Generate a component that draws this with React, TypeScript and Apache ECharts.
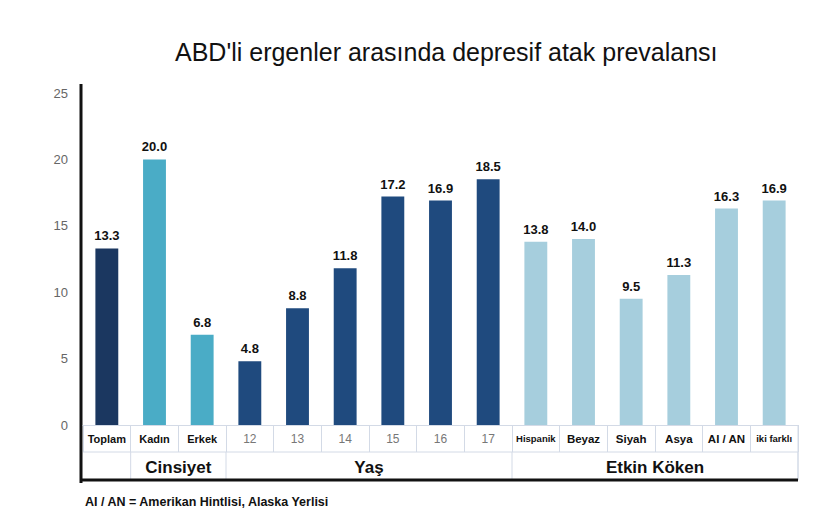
import React, { useEffect, useRef } from "react";
import * as echarts from "echarts";

const categories = ["Toplam", "Kadın", "Erkek", "12", "13", "14", "15", "16", "17", "Hispanik", "Beyaz", "Siyah", "Asya", "AI / AN", "iki farklı"];
const values = [13.3, 20.0, 6.8, 4.8, 8.8, 11.8, 17.2, 16.9, 18.5, 13.8, 14.0, 9.5, 11.3, 16.3, 16.9];
const barColors = ["#1b3760", "#4aacc6", "#4aacc6", "#1f4a7e", "#1f4a7e", "#1f4a7e", "#1f4a7e", "#1f4a7e", "#1f4a7e", "#a6cedd", "#a6cedd", "#a6cedd", "#a6cedd", "#a6cedd", "#a6cedd"];
const labelStyles = ["b", "b", "b", "n", "n", "n", "n", "n", "n", "s", "m", "m", "m", "m", "s"];
const groups = [
  { name: "", start: 0, end: 1 },
  { name: "Cinsiyet", start: 1, end: 3 },
  { name: "Yaş", start: 3, end: 9 },
  { name: "Etkin Köken", start: 9, end: 15 },
];
const yTicks = { min: 0, max: 25, interval: 5 };
const title = "ABD'li ergenler arasında depresif atak prevalansı";
const footnote = "AI / AN = Amerikan Hintlisi, Alaska Yerlisi";

const FONT = "'Liberation Sans', Arial, sans-serif";
const LIGHT = "#d3dae6";

export default function App() {
  const ref = useRef<HTMLDivElement>(null);
  useEffect(() => {
    document.body.style.margin = "0";
    const chart = echarts.init(ref.current!, null, { renderer: "svg" });
    const gridTop = 93, gridBottom = 106, H = 531;
    chart.setOption({
      animation: false,
      backgroundColor: "#ffffff",
      title: {
        text: title,
        left: 170,
        top: 34,
        textStyle: { fontFamily: FONT, fontSize: 25, fontWeight: "normal", color: "#111" },
      },
      grid: { left: 83, right: 27, top: gridTop, bottom: gridBottom },
      xAxis: {
        type: "category",
        data: categories,
        axisLine: { show: true, lineStyle: { color: LIGHT, width: 1 } },
        axisTick: { show: true, length: 27, lineStyle: { color: LIGHT } },
        axisLabel: {
          margin: 8,
          interval: 0,
          formatter: (v: string, i: number) => `{${labelStyles[i]}|${v}}`,
          rich: {
            b: { fontFamily: FONT, fontSize: 11, fontWeight: "bold", color: "#111" },
            n: { fontFamily: FONT, fontSize: 12, color: "#777" },
            s: { fontFamily: FONT, fontSize: 9.5, fontWeight: "bold", color: "#111" },
            m: { fontFamily: FONT, fontSize: 11.5, fontWeight: "bold", color: "#111" },
          },
        },
      },
      yAxis: {
        type: "value",
        min: yTicks.min,
        max: yTicks.max,
        interval: yTicks.interval,
        axisLine: { show: false },
        axisTick: { show: false },
        splitLine: { show: false },
        axisLabel: { margin: 15, fontFamily: FONT, fontSize: 13, color: "#666" },
      },
      series: [
        {
          type: "bar",
          data: values.map((v, i) => ({ value: v, itemStyle: { color: barColors[i] } })),
          barWidth: "48%",
          label: {
            show: true,
            position: "top",
            distance: 6,
            formatter: (p: any) => Number(p.value).toFixed(1),
            fontFamily: FONT,
            fontSize: 13,
            fontWeight: "bold",
            color: "#111",
          },
        },
      ],
    });

    const c0 = chart.convertToPixel({ xAxisIndex: 0 }, 0) as number;
    const c1 = chart.convertToPixel({ xAxisIndex: 0 }, 1) as number;
    const band = c1 - c0;
    const bx = (i: number) => c0 - band / 2 + i * band;
    const yBase = H - gridBottom;
    const row1 = yBase + 27;
    const row2 = row1 + 28;
    const xL = bx(0), xR = bx(categories.length);

    const elements: any[] = [];
    elements.push({ type: "line", shape: { x1: xL, y1: row1, x2: xR, y2: row1 }, style: { stroke: LIGHT, lineWidth: 1 } });
    elements.push({ type: "line", shape: { x1: xR, y1: yBase, x2: xR, y2: row2 }, style: { stroke: LIGHT, lineWidth: 1 } });
    groups.forEach((g) => {
      const x = bx(g.end);
      elements.push({ type: "line", shape: { x1: x, y1: row1, x2: x, y2: row2 }, style: { stroke: LIGHT, lineWidth: 1 } });
      if (g.name) {
        elements.push({
          type: "text",
          x: (bx(g.start) + bx(g.end)) / 2,
          y: (row1 + row2) / 2 + 1,
          style: { text: g.name, fontFamily: FONT, fontSize: 17, fontWeight: "bold", fill: "#111", align: "center", verticalAlign: "middle" },
        });
      }
    });
    elements.push({ type: "line", shape: { x1: xL - 2, y1: 84, x2: xL - 2, y2: row2 + 3 }, style: { stroke: "#111", lineWidth: 3 } });
    elements.push({ type: "line", shape: { x1: xL - 2, y1: row2, x2: xR, y2: row2 }, style: { stroke: "#111", lineWidth: 3 } });
    elements.push({
      type: "text",
      x: 85,
      y: 502,
      style: { text: footnote, fontFamily: FONT, fontSize: 12.5, fontWeight: "bold", fill: "#111", verticalAlign: "middle" },
    });
    chart.setOption({ graphic: { elements } });

    return () => chart.dispose();
  }, []);
  return <div ref={ref} style={{ width: 825, height: 531 }} />;
}
